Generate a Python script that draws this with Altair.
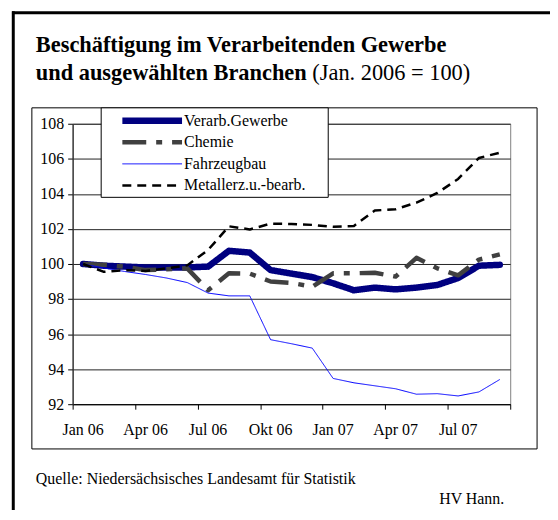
import altair as alt
import pandas as pd

# ---------------- data ----------------
months = ["Jan 06", "Feb 06", "Mär 06", "Apr 06", "Mai 06", "Jun 06", "Jul 06",
          "Aug 06", "Sep 06", "Okt 06", "Nov 06", "Dez 06", "Jan 07", "Feb 07",
          "Mär 07", "Apr 07", "Mai 07", "Jun 07", "Jul 07", "Aug 07", "Sep 07"]
quarter_labels = ["Jan 06", "Apr 06", "Jul 06", "Okt 06", "Jan 07", "Apr 07", "Jul 07"]

series_names = ["Verarb.Gewerbe", "Chemie", "Fahrzeugbau", "Metallerz.u.-bearb."]

verarb = [100.0, 99.9, 99.85, 99.8, 99.8, 99.8, 99.85, 100.75, 100.65, 99.65, 99.45,
          99.25, 98.9, 98.5, 98.65, 98.55, 98.65, 98.8, 99.2, 99.9, 99.95]
chemie = [100.0, 99.95, 99.85, 99.65, 99.7, 99.75, 98.5, 99.47, 99.45, 99.0, 98.92,
          98.7, 99.47, 99.47, 99.5, 99.28, 100.35, 99.75, 99.35, 100.25, 100.55]
fahrzeug = [100.0, 99.77, 99.57, 99.4, 99.2, 98.94, 98.34, 98.18, 98.18, 95.68, 95.45,
            95.2, 93.47, 93.22, 93.05, 92.88, 92.57, 92.6, 92.47, 92.7, 93.41]
metall = [100.0, 99.55, 99.65, 99.6, 99.75, 99.92, 100.8, 102.15, 101.97, 102.3, 102.28,
          102.23, 102.12, 102.17, 103.05, 103.12, 103.5, 104.05, 104.85, 106.05, 106.35]

y_ticks = [92, 94, 96, 98, 100, 102, 104, 106, 108]

# ---------------- styles ----------------
series_colors = ["#000080", "#404040", "#0000FF", "#000000"]
series_dash = [[1, 0], [24, 10, 6, 10], [1, 0], [9, 6]]
series_width = [6.5, 4.5, 1.0, 2.5]

FONT = "Liberation Serif"
W, H = 440, 282

rows = []
for name, vals in zip(series_names, [verarb, chemie, fahrzeug, metall]):
    for i, (m, v) in enumerate(zip(months, vals)):
        rows.append({"series": name, "month": m, "pos": i + 0.5, "value": v, "order": i})
df = pd.DataFrame(rows)

x_scale = alt.Scale(domain=[0, len(months)], nice=False, zero=False)
y_scale = alt.Scale(domain=[92, 108], nice=False, zero=False)
color_scale = alt.Scale(type="ordinal", domain=series_names, range=series_colors)
dash_scale = alt.Scale(type="ordinal", domain=series_names, range=series_dash)
width_scale = alt.Scale(type="ordinal", domain=series_names, range=series_width)

x_enc = alt.X("pos:Q", scale=x_scale,
              axis=alt.Axis(values=list(range(0, len(months) + 1, 3)), labels=False,
                            grid=False, tickSize=5, tickColor="#000", domainColor="#000",
                            title=None))
y_axis = alt.Axis(values=y_ticks, grid=True, gridColor="#222", gridWidth=1, tickSize=5,
                  tickColor="#000", domainColor="#333", domainWidth=1.3,
                  labelFont=FONT, labelFontSize=16, labelColor="#000", labelPadding=4,
                  title=None)
col_enc = alt.Color("series:N", scale=color_scale, legend=None)
dash_enc = alt.StrokeDash("series:N", scale=dash_scale, legend=None)
wid_enc = alt.StrokeWidth("series:N", scale=width_scale, legend=None)

one = pd.DataFrame({"a": [0]})

# frames
outer_left = alt.Chart(one).mark_rule(color="#000", strokeWidth=3).encode(
    x=alt.value(-59.7), y=alt.value(-113), y2=alt.value(420))
outer_top = alt.Chart(one).mark_rule(color="#000", strokeWidth=3).encode(
    x=alt.value(-61), x2=alt.value(520), y=alt.value(-111.7))
inner_frame = alt.Chart(one).mark_rect(fillOpacity=0, stroke="#000", strokeWidth=1).encode(
    x=alt.value(-41), x2=alt.value(467), y=alt.value(-16), y2=alt.value(327))

# lines
base = alt.Chart(df)
navy = base.transform_filter(alt.datum.series == series_names[0]).mark_line(
    strokeCap="round", strokeJoin="round").encode(
    x=x_enc, y=alt.Y("value:Q", scale=y_scale, axis=y_axis),
    color=col_enc, strokeDash=dash_enc, strokeWidth=wid_enc, order="order:Q")
others = base.transform_filter(alt.datum.series != series_names[0]).mark_line(
    strokeCap="butt", strokeJoin="round").encode(
    x=x_enc, y=alt.Y("value:Q", scale=y_scale, axis=None),
    color=col_enc, strokeDash=dash_enc, strokeWidth=wid_enc, order="order:Q")

# x labels
xl_df = pd.DataFrame({"label": quarter_labels,
                      "pos": [months.index(l) + 0.5 for l in quarter_labels]})
x_labels = alt.Chart(xl_df).mark_text(font=FONT, fontSize=16, color="#000",
                                      baseline="alphabetic", align="center").encode(
    x=x_enc, y=alt.value(H + 31), text="label:N")

# legend
leg_df = pd.DataFrame({"series": series_names})
leg_y = alt.Y("series:N", scale=alt.Scale(type="point", domain=series_names,
                                           range=[-3, 62], padding=0), axis=None)
leg_box = alt.Chart(one).mark_rect(fill="white", stroke="#000", strokeWidth=1).encode(
    x=alt.value(28.7), x2=alt.value(257), y=alt.value(-16), y2=alt.value(74))
leg_sym = alt.Chart(leg_df).mark_rule().encode(
    x=alt.value(50), x2=alt.value(110), y=leg_y,
    color=col_enc, strokeDash=dash_enc, strokeWidth=wid_enc)
leg_txt = alt.Chart(leg_df).mark_text(font=FONT, fontSize=16, color="#000",
                                      align="left", baseline="middle").encode(
    x=alt.value(112), y=leg_y, text="series:N")

# texts
def txt(s, x, y, size, weight="normal", align="left"):
    return alt.Chart(one).mark_text(text=s, font=FONT, fontSize=size, fontWeight=weight,
                                    color="#000", align=align,
                                    baseline="alphabetic").encode(
        x=alt.value(x), y=alt.value(y))

t1 = txt("Beschäftigung im Verarbeitenden Gewerbe", -37, -72, 22.5, "bold")
t2 = txt("und ausgewählten Branchen", -37, -44, 22.5, "bold")
t3 = txt("(Jan. 2006 = 100)", 241, -44, 22.5)
src = txt("Quelle: Niedersächsisches Landesamt für Statistik", -37, 362, 16)
hv = txt("HV Hann.", 434, 382, 16, align="right")

chart = alt.layer(
    outer_left, outer_top, inner_frame, navy, others, x_labels,
    leg_box, leg_sym, leg_txt, t1, t2, t3, src, hv
).resolve_scale(y="independent").properties(
    width=W, height=H,
    autosize=alt.AutoSizeParams(type="none"),
    padding={"left": 65, "top": 115, "right": 40, "bottom": 105},
    background="white",
).configure_view(stroke="#808080", strokeWidth=1).configure_axis(
    labelFont=FONT, labelFontSize=16, labelColor="#000")

chart.save("out.html", embed_options={"renderer": "svg", "actions": False})
